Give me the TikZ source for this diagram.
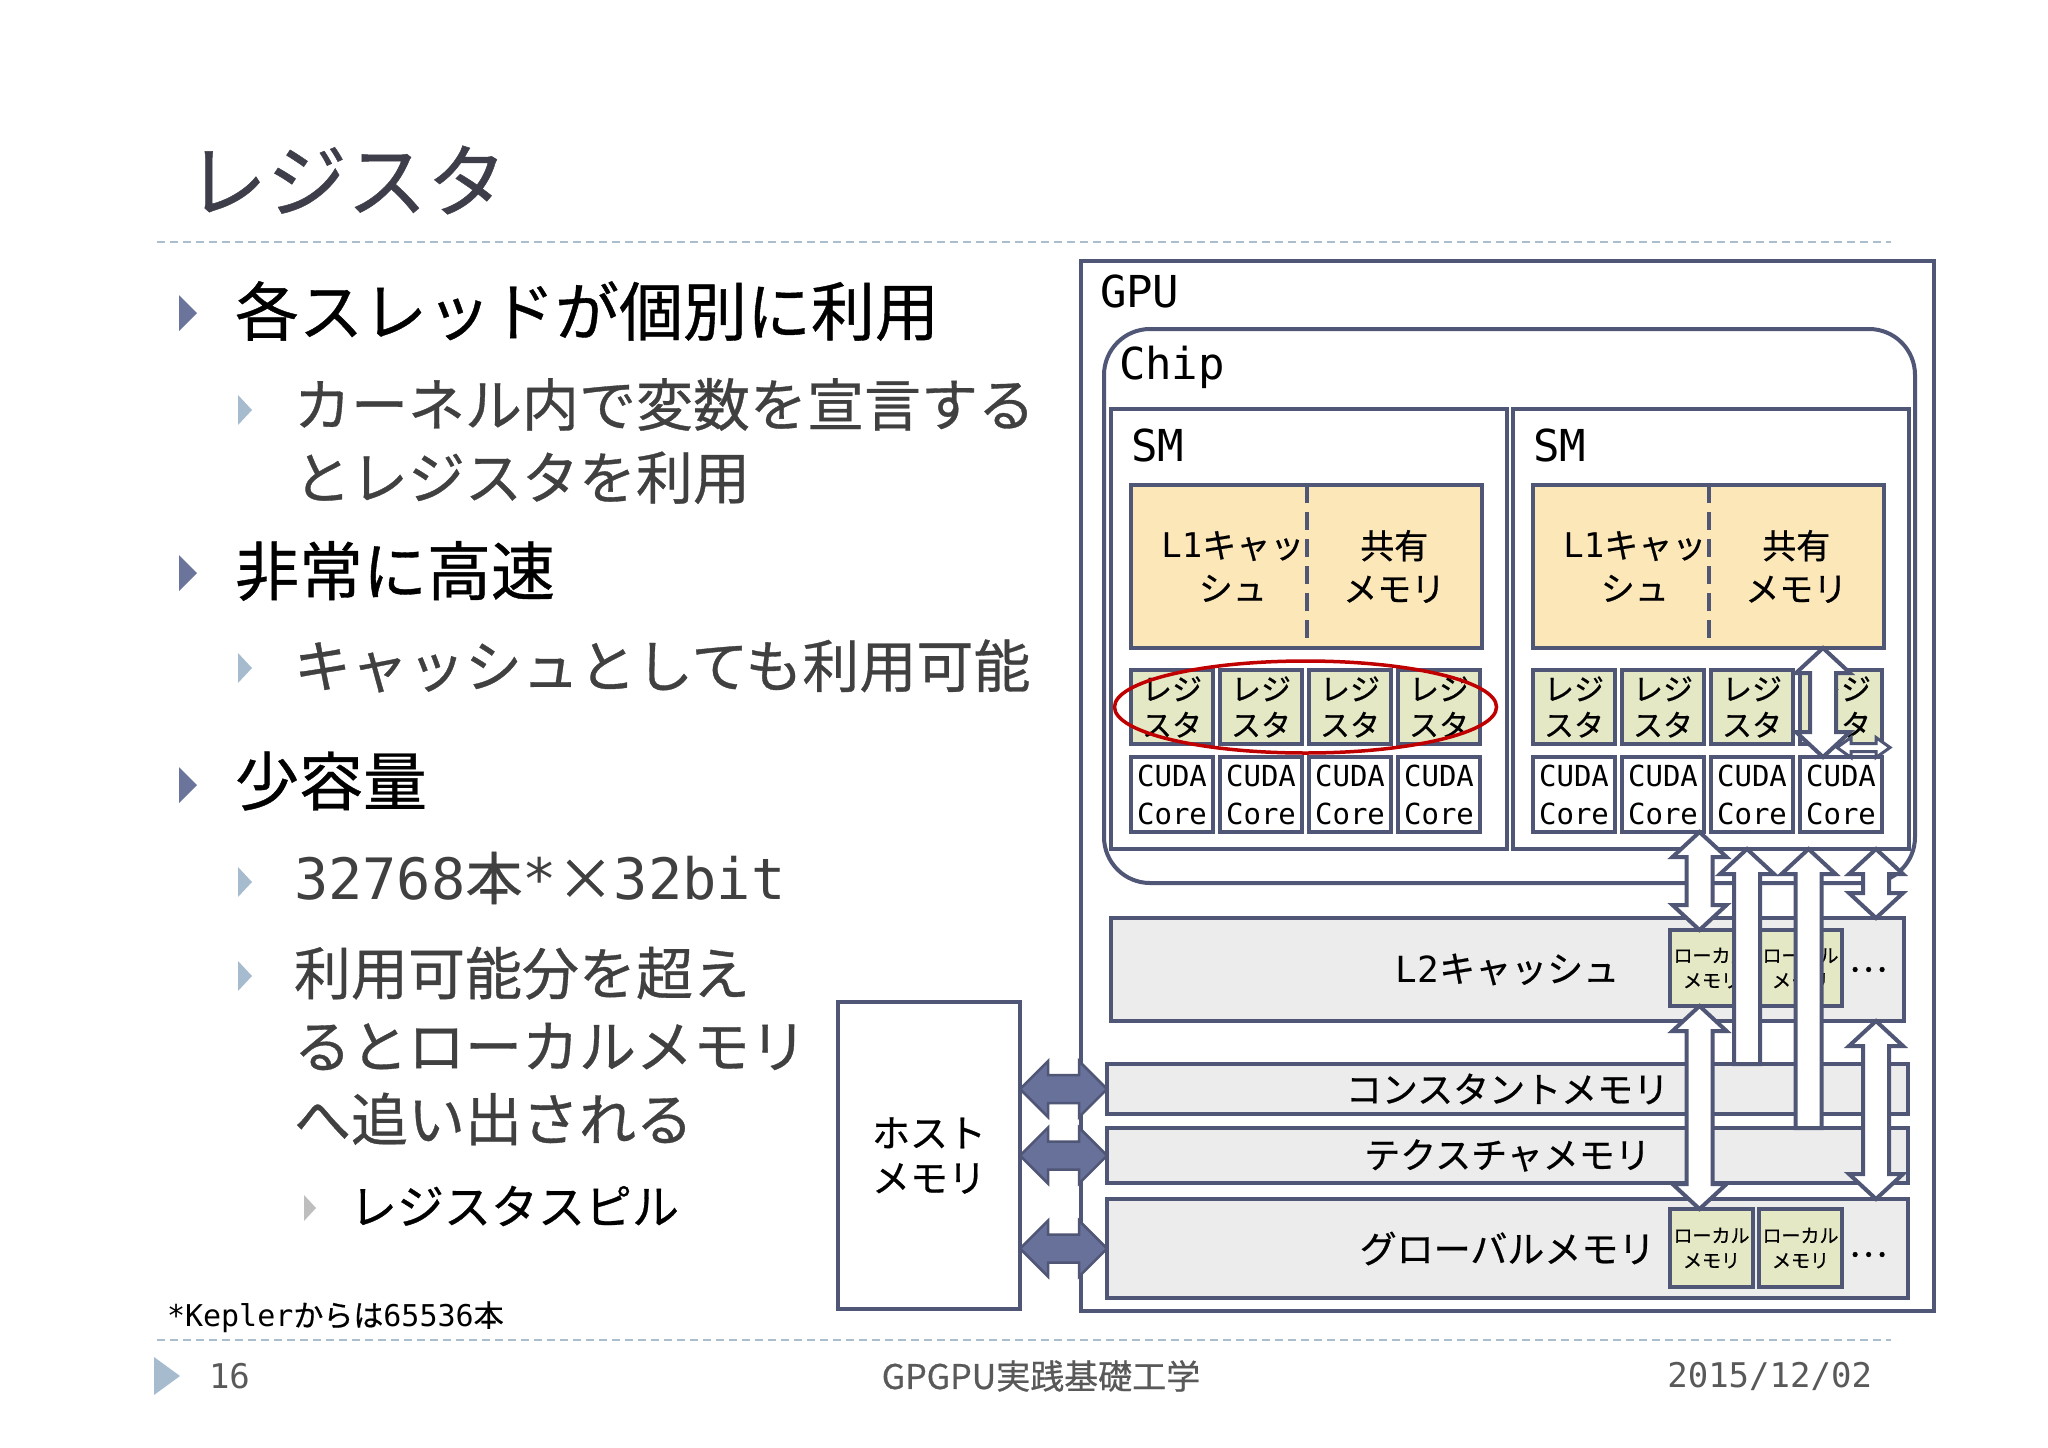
\documentclass[tikz,border=0pt]{standalone}
\usepackage{fontspec}
\setmainfont{Noto Sans CJK JP}[FakeBold=0.6]
\newfontfamily\consol{DejaVu Sans Mono}
\usepackage{tikz}
\usetikzlibrary{positioning,calc,shapes.geometric}

\definecolor{edge}{RGB}{80,86,118}
\definecolor{arrowblue}{RGB}{104,113,154}
\definecolor{tridark}{RGB}{107,116,155}
\definecolor{trilight}{RGB}{166,187,206}
\definecolor{trigray}{RGB}{190,190,190}
\definecolor{sepline}{RGB}{170,190,206}
\definecolor{l1fill}{RGB}{252,231,185}
\definecolor{regfill}{RGB}{228,232,196}
\definecolor{memfill}{RGB}{236,236,236}
\definecolor{textgray}{RGB}{64,64,64}
\definecolor{titlegray}{RGB}{62,62,74}
\definecolor{footgray}{RGB}{89,89,89}
\definecolor{hlred}{RGB}{192,0,0}

% bullet: colour, left middle point, half height, width
\newcommand{\bultri}[4]{\fill[#1] (#2) ++(0,#3) -- ++(#4,-#3) -- ++(-#4,-#3) -- cycle;}
% wide arrow, two heads: style, from, to, head length, head half width, shaft half width
\newcommand{\fatdbl}[6]{\draw[#1] (#2) -- ($(#2)!#4!(#3)!#5!90:(#3)$) -- ($(#2)!#4!(#3)!#6!90:(#3)$)
  -- ($(#3)!#4!(#2)!#6!-90:(#2)$) -- ($(#3)!#4!(#2)!#5!-90:(#2)$) -- (#3)
  -- ($(#3)!#4!(#2)!#5!90:(#2)$) -- ($(#3)!#4!(#2)!#6!90:(#2)$)
  -- ($(#2)!#4!(#3)!#6!-90:(#3)$) -- ($(#2)!#4!(#3)!#5!-90:(#3)$) -- cycle;}
% wide arrow, one head at the second point
\newcommand{\fatone}[6]{\draw[#1] (#3) -- ($(#3)!#4!(#2)!#5!90:(#2)$) -- ($(#3)!#4!(#2)!#6!90:(#2)$)
  -- ($(#2)!#6!-90:(#3)$) -- ($(#2)!#6!90:(#3)$)
  -- ($(#3)!#4!(#2)!#6!-90:(#2)$) -- ($(#3)!#4!(#2)!#5!-90:(#2)$) -- cycle;}

\begin{document}
\begin{tikzpicture}[x=1pt, y=-1pt,
    every node/.style={inner sep=0pt, outer sep=0pt},
    frame/.style={draw=edge, line width=4pt, anchor=north west},
    gpubox/.style={frame, fill=white, minimum width=853, minimum height=1050},
    chipbox/.style={frame, rounded corners=46pt, minimum width=811, minimum height=554},
    smbox/.style={frame, minimum width=396, minimum height=440},
    l1box/.style={frame, fill=l1fill, minimum width=351, minimum height=163},
    regbox/.style={frame, fill=regfill, minimum width=82, minimum height=74, align=center, font=\fontsize{30}{36}\selectfont},
    corebox/.style={frame, fill=white, minimum width=82, minimum height=75, align=center, font=\consol\fontsize{29}{38}\selectfont},
    membox/.style={frame, fill=memfill, minimum width=801},
    locbox/.style={frame, fill=regfill, minimum width=83, align=center, font=\fontsize{19}{25}\selectfont},
    hostbox/.style={frame, fill=white, minimum width=182, minimum height=307, align=center, font=\fontsize{38}{45}\selectfont},
    boxlabel/.style={anchor=base west, font=\consol\fontsize{44}{50}\selectfont},
    memlabel/.style={font=\fontsize{36}{44}\selectfont},
    cachelabel/.style={align=center, font=\fontsize{34}{43}\selectfont},
    lvlone/.style={anchor=west, font=\fontsize{64}{77}\selectfont},
    lvltwo/.style={anchor=west, align=left, text=textgray, font=\fontsize{57}{73}\selectfont},
    lvlthree/.style={anchor=west, font=\fontsize{47}{56}\selectfont},
    foot/.style={text=footgray, font=\fontsize{34}{40}\selectfont},
    sep/.style={sepline, line width=2.5pt, dash pattern=on 8pt off 5pt},
    fatw/.style={draw=edge, fill=white, line width=4pt},
    fatb/.style={draw=edge, fill=arrowblue, line width=2.5pt},
    hl/.style={ellipse, draw=hlred, line width=3.5pt, minimum width=382, minimum height=92}
]
\useasboundingbox[fill=white] (0,0) rectangle (2048,1448);

% slide frame
\node[anchor=west, text=titlegray, font=\fontsize{80}{96}\selectfont] (title) at (187,180) {レジスタ};
\draw[sep] (157,242) -- (1891,242);
\draw[sep] (157,1340) -- (1891,1340);
\bultri{trilight}{154,1376}{19}{26}
\node[foot, anchor=west, font=\consol\fontsize{34}{40}\selectfont] (page) at (209,1376) {16};
\node[foot] (course) at (1041,1376) {GPGPU実践基礎工学};
\node[foot, anchor=east, font=\consol\fontsize{34}{40}\selectfont] (date) at (1872,1376) {2015/12/02};

% bullets
\bultri{tridark}{179,313}{18}{18}
\node[lvlone] (p1) at (235,311) {各スレッドが個別に利用};
\bultri{trilight}{238,410}{15}{14}
\node[lvltwo] (p1a) at (294,441) {カーネル内で変数を宣言する\\とレジスタを利用};
\bultri{tridark}{179,573}{18}{18}
\node[lvlone] (p2) at (235,571) {非常に高速};
\bultri{trilight}{238,668}{15}{14}
\node[lvltwo] (p2a) at (294,666) {キャッシュとしても利用可能};
\bultri{tridark}{179,785}{18}{18}
\node[lvlone] (p3) at (235,781) {少容量};
\bultri{trilight}{238,882}{15}{14}
\node[lvltwo] (p3a) at (294,878) {{\consol 32768}本{\consol *}×{\consol 32bit}};
\bultri{trilight}{238,976}{15}{14}
\node[lvltwo] (p3b) at (294,1046) {利用可能分を超え\\るとローカルメモリ\\へ追い出される};
\bultri{trigray}{304,1208}{13}{12}
\node[lvlthree] (p3c) at (350,1206) {レジスタスピル};
\node[anchor=west, font=\fontsize{30}{36}\selectfont] (note) at (167,1317) {{\consol *Kepler}からは{\consol 65536}本};

% GPU
\node[gpubox] (gpu) at (1081,261) {};
\node[boxlabel] (gpulab) at ($(gpu.north west)+(19,46)$) {GPU};
\node[hostbox] (host) at (838,1002) {ホスト\\メモリ};
\node[chipbox] (chip) at (1104,329) {};
\node[boxlabel] (chiplab) at ($(chip.north west)+(15,50)$) {Chip};
\foreach \s/\x in {1/1111, 2/1513} {
  \node[smbox] (sm\s) at (\x,409) {};
  \node[boxlabel] (smlab\s) at ($(sm\s.north west)+(20,52)$) {SM};
  \node[l1box] (l1\s) at ($(sm\s.north west)+(20,76)$) {};
  \draw[edge, line width=4pt, dash pattern=on 18pt off 9pt] (l1\s.north) -- (l1\s.south);
  \node[cachelabel] (l1lab\s) at ($(l1\s.west)!0.29!(l1\s.east)$) {{\consol L1}キャッ\\シュ};
  \node[cachelabel] (shlab\s) at ($(l1\s.west)!0.75!(l1\s.east)$) {共有\\メモリ};
  \foreach \i in {1,...,4} {
    \node[regbox] (reg\s\i) at ($(sm\s.north west)+({20+89*(\i-1)},261)$) {レジ\\スタ};
    \node[corebox] (core\s\i) at ($(sm\s.north west)+({20+89*(\i-1)},348)$) {CUDA\\Core};
  }
}
\node[hl] (regmark) at ($(reg11.center)!0.5!(reg14.center)$) {};

% memories
\node[membox, minimum width=793, minimum height=103] (l2) at (1111,918) {};
\node[memlabel] (l2lab) at (l2.center) {{\consol L2}キャッシュ};
\node[locbox, minimum height=76] (l2loc1) at (1670,930) {ローカル\\メモリ};
\node[locbox, minimum height=76] (l2loc2) at (1759,930) {ローカル\\メモリ};
\node[memlabel] (l2dots) at ($(l2.east)+(-36,0)$) {…};
\node[membox, minimum height=50] (const) at (1107,1064) {};
\node[memlabel] (constlab) at (const.center) {コンスタントメモリ};
\node[membox, minimum height=55] (tex) at (1107,1128) {};
\node[memlabel] (texlab) at (tex.center) {テクスチャメモリ};
\node[membox, minimum height=99] (glob) at (1107,1199) {};
\node[memlabel, font=\fontsize{37}{44}\selectfont] (globlab) at (glob.center) {グローバルメモリ};
\node[locbox, minimum height=78] (gloc1) at (1670,1209) {ローカル\\メモリ};
\node[locbox, minimum height=78] (gloc2) at (1759,1209) {ローカル\\メモリ};
\node[memlabel] (globdots) at ($(glob.east)+(-40,6)$) {…};

% arrows
\coordinate (rx) at ($(reg24.center)+(-18,0)$);
\coordinate (ry) at ($(reg24.south)!0.5!(core24.north)$);
\coordinate (ax) at ($(l2loc1.north)+(-12,0)$);
\coordinate (bx) at ($(l2loc1.north east)+(-6,0)$);
\coordinate (cx) at ($(l2loc2.north)+(8,0)$);
\coordinate (dx) at ($(l2.north east)+(-28,0)$);
\coordinate (hs) at ($(ry)+(-4,-3)$);
\coordinate (he) at ($(ry)+(49,-3)$);
\fatdbl{fatw, line width=3pt}{hs}{he}{14pt}{10pt}{4pt}
\fatdbl{fatw}{rx |- l12.south}{rx |- core24.north}{25pt}{27pt}{13pt}
\fatone{fatw}{bx |- const.north}{bx |- sm2.south}{25pt}{27pt}{13pt}
\fatone{fatw}{cx |- tex.north}{cx |- sm2.south}{25pt}{27pt}{13pt}
\fatdbl{fatw}{ax |- core22.south}{ax |- l2loc1.north}{25pt}{27pt}{13pt}
\fatdbl{fatw}{dx |- sm2.south}{dx |- l2.north}{25pt}{27pt}{13pt}
\fatdbl{fatw}{ax |- l2loc1.south}{ax |- gloc1.north}{25pt}{27pt}{13pt}
\fatdbl{fatw}{dx |- l2.south}{dx |- glob.north}{25pt}{27pt}{13pt}
\coordinate (h1) at (host.east |- const.west);
\coordinate (h2) at (host.east |- tex.west);
\coordinate (h3) at (host.east |- glob.west);
\fatdbl{fatb}{h1}{const.west}{28pt}{28pt}{14pt}
\fatdbl{fatb}{h2}{tex.west}{28pt}{28pt}{14pt}
\fatdbl{fatb}{h3}{glob.west}{28pt}{28pt}{14pt}
\end{tikzpicture}
\end{document}
